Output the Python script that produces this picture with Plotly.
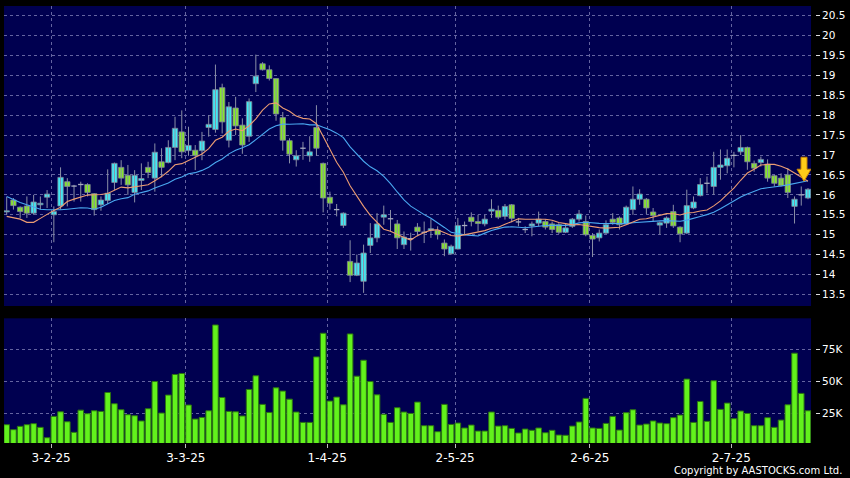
import pandas as pd
import plotly.graph_objects as go

# ---------------- data ----------------
holidays = ["2025-01-29", "2025-01-30", "2025-01-31", "2025-04-04", "2025-04-18",
            "2025-04-21", "2025-05-01", "2025-05-05", "2025-07-01"]
date_strs = [d.strftime("%Y-%m-%d") for d in pd.bdate_range("2025-01-20", "2025-07-17")
             if d.strftime("%Y-%m-%d") not in holidays]

label_dates = ["2025-02-03", "2025-03-03", "2025-04-01", "2025-05-02", "2025-06-02", "2025-07-02"]

opens = [15.57, 15.87, 15.69, 15.72, 15.54, 15.75, 15.94, 15.50, 15.72, 16.33,
         16.22, 16.26, 16.26, 16.03, 15.75, 15.86, 16.31, 16.69, 16.49, 16.06,
         16.36, 16.69, 16.42, 16.83, 16.81, 17.19, 17.58, 17.11, 17.12, 17.11,
         17.69, 17.64, 18.69, 17.37, 18.18, 17.75, 17.47, 18.79, 19.29, 19.14,
         18.92, 17.94, 17.36, 16.88, 17.17, 16.98, 17.69, 16.79, 15.94, 15.63,
         15.23, 14.33, 13.98, 13.83, 14.73, 14.92, 15.44, 15.40, 15.27, 14.75,
         14.90, 15.19, 15.06, 15.11, 15.11, 14.79, 14.52, 14.64, 15.23, 15.44,
         15.33, 15.27, 15.59, 15.61, 15.46, 15.75, 15.32, 15.13, 15.22, 15.29,
         15.33, 15.27, 15.25, 15.06, 15.21, 15.39, 15.33, 14.98, 14.92, 15.04,
         15.39, 15.42, 15.27, 15.63, 15.89, 15.89, 15.57, 15.24, 15.29, 15.58,
         15.19, 15.04, 15.67, 15.98, 16.29, 16.21, 16.69, 16.73, 16.99, 17.08,
         17.19, 16.79, 16.81, 16.77, 16.48, 16.42, 16.50, 15.71, 16.00, 15.92]

highs = [15.95, 15.92, 15.71, 15.96, 16.00, 15.96, 16.12, 15.71, 16.69, 16.42,
         16.25, 16.33, 16.29, 16.04, 15.96, 16.64, 16.81, 16.87, 16.75, 16.62,
         16.79, 16.83, 17.29, 17.17, 17.37, 17.96, 18.12, 17.71, 17.25, 17.58,
         18.00, 19.27, 18.79, 18.33, 18.46, 17.92, 18.42, 19.52, 19.33, 19.25,
         18.92, 18.08, 17.42, 17.12, 17.33, 17.47, 18.25, 16.81, 16.08, 15.77,
         15.56, 14.86, 14.50, 14.75, 15.29, 15.54, 15.73, 15.62, 15.37, 15.08,
         15.05, 15.29, 15.33, 15.39, 15.21, 14.88, 14.75, 15.42, 15.33, 15.56,
         15.50, 15.50, 15.89, 15.73, 15.77, 15.77, 15.42, 15.21, 15.33, 15.58,
         15.39, 15.33, 15.29, 15.29, 15.42, 15.62, 15.48, 15.04, 15.13, 15.36,
         15.54, 15.46, 15.73, 16.21, 16.14, 15.92, 15.67, 15.33, 15.46, 15.75,
         15.21, 16.13, 15.96, 16.42, 16.46, 17.08, 17.14, 17.14, 17.08, 17.50,
         17.21, 16.86, 16.96, 16.89, 16.50, 16.54, 16.67, 15.96, 16.21, 16.17]

lows = [15.50, 15.63, 15.42, 15.42, 15.50, 15.63, 15.67, 14.81, 15.63, 15.71,
        15.83, 15.83, 15.96, 15.48, 15.60, 15.77, 16.12, 16.25, 16.00, 15.81,
        16.12, 16.42, 16.08, 16.44, 16.79, 16.87, 16.92, 16.98, 16.62, 16.87,
        17.46, 17.56, 17.54, 17.19, 17.50, 17.03, 17.33, 18.58, 19.12, 18.87,
        17.86, 17.11, 16.79, 16.71, 16.88, 16.83, 16.98, 15.56, 15.63, 15.46,
        15.17, 13.81, 13.96, 13.54, 14.54, 14.81, 15.25, 15.08, 14.64, 14.64,
        14.60, 14.96, 14.79, 14.92, 14.88, 14.46, 14.50, 14.63, 15.00, 15.21,
        15.08, 15.21, 15.42, 15.39, 15.38, 15.31, 15.21, 15.04, 14.96, 15.21,
        15.13, 15.04, 15.02, 15.04, 15.17, 15.33, 14.96, 14.44, 14.83, 15.02,
        15.25, 15.13, 15.25, 15.50, 15.75, 15.52, 15.33, 15.00, 15.17, 15.17,
        14.81, 15.02, 15.64, 15.96, 16.04, 16.00, 16.38, 16.54, 16.69, 17.00,
        16.63, 16.58, 16.71, 16.33, 16.21, 16.21, 15.92, 15.28, 15.73, 15.89]

closes = [15.60, 15.73, 15.58, 15.54, 15.82, 15.79, 16.02, 15.58, 16.44, 16.21,
          16.22, 16.26, 16.06, 15.63, 15.87, 16.04, 16.79, 16.42, 16.25, 16.49,
          16.41, 16.56, 17.07, 16.69, 17.19, 17.67, 17.08, 17.24, 16.99, 17.35,
          17.77, 18.64, 17.83, 18.21, 17.73, 17.25, 18.34, 18.98, 19.14, 18.92,
          18.03, 17.37, 17.02, 16.98, 17.17, 17.08, 17.17, 15.92, 15.79, 15.63,
          15.54, 13.98, 14.29, 14.54, 14.92, 15.27, 15.50, 15.40, 14.92, 14.94,
          14.90, 15.08, 15.06, 15.15, 15.00, 14.64, 14.71, 15.23, 15.23, 15.33,
          15.28, 15.39, 15.64, 15.44, 15.71, 15.41, 15.32, 15.13, 15.27, 15.39,
          15.19, 15.13, 15.06, 15.17, 15.39, 15.52, 15.00, 14.89, 15.04, 15.25,
          15.31, 15.25, 15.69, 15.89, 16.02, 15.67, 15.48, 15.30, 15.42, 15.22,
          15.02, 15.73, 15.82, 16.26, 16.29, 16.69, 16.75, 16.92, 16.99, 17.19,
          16.83, 16.67, 16.89, 16.42, 16.29, 16.23, 16.06, 15.89, 16.00, 16.14]

volumes_k = [15.9, 12.0, 14.6, 15.9, 16.7, 13.8, 5.7, 22.4, 26.0, 18.2,
             9.9, 27.3, 24.5, 26.8, 26.3, 41.1, 32.3, 27.6, 23.7, 22.9,
             18.8, 28.4, 49.7, 25.0, 39.1, 55.2, 56.0, 31.3, 20.3, 21.6,
             26.8, 94.0, 37.2, 26.3, 26.0, 22.7, 43.5, 54.2, 31.8, 25.5,
             44.8, 42.2, 35.9, 25.8, 17.7, 17.7, 69.0, 87.5, 34.4, 37.5,
             31.5, 87.0, 53.9, 66.4, 49.7, 39.3, 24.0, 17.7, 29.2, 25.8,
             24.7, 33.6, 15.1, 15.1, 10.4, 31.8, 16.1, 17.2, 13.3, 15.6,
             10.9, 10.9, 25.8, 14.8, 15.1, 13.0, 9.4, 12.5, 11.5, 13.3,
             9.6, 11.5, 7.8, 7.6, 14.8, 18.0, 36.5, 13.3, 13.0, 16.9,
             22.4, 11.7, 25.3, 27.6, 15.6, 16.4, 18.8, 17.2, 16.7, 21.4,
             23.4, 51.6, 17.7, 34.1, 18.5, 50.3, 27.9, 32.8, 20.6, 26.6,
             24.7, 15.1, 15.1, 21.4, 13.8, 19.5, 31.5, 71.9, 40.4, 26.8]

# moving-average values for the first bars (before enough closes exist)
ma10_head = [15.46, 15.43, 15.39, 15.31, 15.31, 15.41, 15.52, 15.61, 15.69]
ma20_head = [15.96, 15.875, 15.81, 15.75, 15.69, 15.64, 15.625, 15.62, 15.625, 15.64,
             15.66, 15.675, 15.67, 15.64, 15.69, 15.775, 15.86, 15.90, 15.93]

price_ticks = [13.5, 14, 14.5, 15, 15.5, 16, 16.5, 17, 17.5, 18, 18.5, 19, 19.5, 20, 20.5]
vol_ticks = [25, 50, 75]

# ---------------- derived ----------------
n = len(closes)
x = list(range(n))


def moving_average(vals, win, head):
    out = []
    for i in range(len(vals)):
        if i < len(head):
            out.append(head[i])
        else:
            seg = vals[i - win + 1:i + 1]
            out.append(sum(seg) / win)
    return out


ma10 = moving_average(closes, 10, ma10_head)
ma20 = moving_average(closes, 20, ma20_head)

tick_pos = [date_strs.index(d) - 0.4 for d in label_dates]
tick_txt = []
for d in label_dates:
    ts = pd.Timestamp(d)
    tick_txt.append(f"{ts.day}-{ts.month}-{ts.year % 100}")

# candle pieces
wick_x, wick_y = [], []
for i in x:
    wick_x += [i, i, None]
    wick_y += [lows[i], highs[i], None]

up_x, up_base, up_h = [], [], []
dn_x, dn_base, dn_h = [], [], []
doji_x, doji_y = [], []
BODY_W = 0.8
for i in x:
    o, c = opens[i], closes[i]
    if abs(c - o) < 1e-9:
        doji_x += [i - BODY_W / 2, i + BODY_W / 2, None]
        doji_y += [o, o, None]
    elif c > o:
        up_x.append(i); up_base.append(o); up_h.append(c - o)
    else:
        dn_x.append(i); dn_base.append(c); dn_h.append(o - c)

# ---------------- figure ----------------
BG = "#000050"
GRID = "#6464a0"
FONT = "DejaVu Sans"
EDGE = "#8a8fa6"

fig = go.Figure()

fig.add_trace(go.Scatter(x=wick_x, y=wick_y, mode="lines", xaxis="x", yaxis="y",
                         line=dict(color=EDGE, width=1), showlegend=False, hoverinfo="skip"))
fig.add_trace(go.Scatter(x=doji_x, y=doji_y, mode="lines", xaxis="x", yaxis="y",
                         line=dict(color="#a8acc0", width=1.3), showlegend=False,
                         hoverinfo="skip"))
fig.add_trace(go.Bar(x=up_x, y=up_h, base=up_base, width=BODY_W, xaxis="x", yaxis="y",
                     marker=dict(color="#40eaf5", line=dict(color="#7c8396", width=0.8)),
                     showlegend=False, hoverinfo="skip"))
fig.add_trace(go.Bar(x=dn_x, y=dn_h, base=dn_base, width=BODY_W, xaxis="x", yaxis="y",
                     marker=dict(color="#86e62c", line=dict(color="#7c8396", width=0.8)),
                     showlegend=False, hoverinfo="skip"))

fig.add_trace(go.Scatter(x=x, y=ma20, mode="lines", xaxis="x", yaxis="y",
                         line=dict(color="#4aa8f0", width=1.1), showlegend=False,
                         hoverinfo="skip"))
fig.add_trace(go.Scatter(x=x, y=ma10, mode="lines", xaxis="x", yaxis="y",
                         line=dict(color="#ec9c72", width=1.1), showlegend=False,
                         hoverinfo="skip"))

fig.add_trace(go.Bar(x=x, y=volumes_k, xaxis="x2", yaxis="y2", width=0.83,
                     marker=dict(color="#62f21c", line=dict(color="#2c7412", width=1)),
                     showlegend=False, hoverinfo="skip"))

XDOM = [0, 0.989]
YPOS = 0.9939
axis_font = dict(family=FONT, size=10.5, color="#ffffff")

fig.update_layout(
    width=850, height=478,
    paper_bgcolor="#000000", plot_bgcolor=BG,
    margin=dict(l=4, r=28, t=6, b=35),
    barmode="overlay",
    xaxis=dict(domain=XDOM, anchor="y", range=[-0.4, n - 0.55], matches="x2",
               tickvals=tick_pos, ticktext=tick_txt, showticklabels=False,
               showgrid=True, gridcolor=GRID, griddash="3px,3px", gridwidth=1,
               zeroline=False, showline=False, ticks=""),
    xaxis2=dict(domain=XDOM, anchor="y2", range=[-0.4, n - 0.55],
                tickvals=tick_pos, ticktext=tick_txt,
                tickfont=dict(family=FONT, size=12, color="#ffffff"),
                ticks="outside", ticklen=4, tickcolor="#bbbbbb",
                showgrid=True, gridcolor=GRID, griddash="3px,3px", gridwidth=1,
                zeroline=False, showline=False),
    yaxis=dict(domain=[0.3135, 1], anchor="free", position=YPOS, side="right",
               range=[13.21, 20.74], tickvals=price_ticks,
               ticktext=[f"{v:g}" for v in price_ticks], tickfont=axis_font,
               ticks="outside", ticklen=4, tickcolor="#dddddd",
               showgrid=True, gridcolor=GRID, griddash="3px,3px", gridwidth=1,
               zeroline=False, showline=False),
    yaxis2=dict(domain=[0, 0.2853], anchor="free", position=YPOS, side="right",
                range=[1.56, 99.2], tickvals=vol_ticks,
                ticktext=[f"{v}K" for v in vol_ticks], tickfont=axis_font,
                ticks="outside", ticklen=4, tickcolor="#dddddd",
                showgrid=True, gridcolor=GRID, griddash="3px,3px", gridwidth=1,
                zeroline=False, showline=False),
)

# yellow marker arrow pointing at the end of the short moving average
fig.add_shape(type="path", xref="x", yref="y",
              xsizemode="pixel", ysizemode="pixel",
              xanchor=x[-1], yanchor=ma10[-1],
              path="M -4 0 L -11 12 L -7 12 L -7 24 L -1 24 L -1 12 L 3 12 Z",
              fillcolor="#ffcc18", line=dict(color="#c98400", width=1), layer="above")

fig.add_annotation(text="Copyright by AASTOCKS.com Ltd.", xref="paper", yref="paper",
                   x=1.0293, y=-0.062, xanchor="right", yanchor="middle",
                   showarrow=False, font=dict(family=FONT, size=10, color="#ffffff"))

fig.write_html("out.html", config={"displayModeBar": False},
               post_script="document.body.style.margin='0';document.body.style.overflow='hidden';")
